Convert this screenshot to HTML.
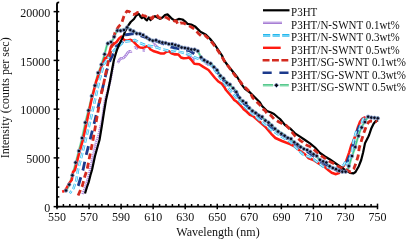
<!DOCTYPE html>
<html><head><meta charset="utf-8"><style>
html,body{margin:0;padding:0;background:#fff;width:406px;height:240px;overflow:hidden}
svg{display:block;will-change:transform}
</style></head><body>
<svg width="406" height="240" viewBox="0 0 406 240">
<polyline points="82.4,194.0 85.0,188.0 88.6,176.0 90.0,170.0 93.1,155.0 96.0,142.0 98.3,136.0 102.0,120.0 105.0,100.0 108.0,90.0 110.5,80.0 113.6,63.5" stroke="#a883dc" stroke-width="2.5" stroke-dasharray="1.2 0.8" fill="none" stroke-linejoin="round"/>
<polyline points="117.8,63.0 118.5,61.5 120.0,59.0 121.5,58.3 123.3,58.0 124.5,57.0 125.8,55.4 127.5,52.9 129.6,51.3 131.2,51.5 131.5,51.2" stroke="#a47cd9" stroke-width="2.6" fill="none" stroke-linejoin="round"/>
<polyline points="117.8,63.0 118.5,61.5 120.0,59.0 121.5,58.3 123.3,58.0 124.5,57.0 125.8,55.4 127.5,52.9 129.6,51.3 131.2,51.5 131.5,51.2" stroke="#ffffff" stroke-width="1.1" stroke-dasharray="1 1" fill="none" stroke-linejoin="round"/>
<polyline points="134.5,47.8 135.0,47.3 137.5,48.6 137.8,48.8" stroke="#a47cd9" stroke-width="2.6" fill="none" stroke-linejoin="round"/>
<polyline points="134.5,47.8 135.0,47.3 137.5,48.6 137.8,48.8" stroke="#ffffff" stroke-width="1.1" stroke-dasharray="1 1" fill="none" stroke-linejoin="round"/>
<polyline points="142.5,50.2 143.0,50.2 145.0,50.5" stroke="#a47cd9" stroke-width="2.6" fill="none" stroke-linejoin="round"/>
<polyline points="142.5,50.2 143.0,50.2 145.0,50.5" stroke="#ffffff" stroke-width="1.1" stroke-dasharray="1 1" fill="none" stroke-linejoin="round"/>
<polyline points="153.5,44.5 154.0,44.0 156.0,46.0 157.6,47.2 158.5,47.3" stroke="#a47cd9" stroke-width="2.6" fill="none" stroke-linejoin="round"/>
<polyline points="153.5,44.5 154.0,44.0 156.0,46.0 157.6,47.2 158.5,47.3" stroke="#ffffff" stroke-width="1.1" stroke-dasharray="1 1" fill="none" stroke-linejoin="round"/>
<polyline points="186.0,53.7 187.0,54.0 190.0,56.5 194.0,60.0 195.0,60.1" stroke="#a47cd9" stroke-width="2.6" fill="none" stroke-linejoin="round"/>
<polyline points="186.0,53.7 187.0,54.0 190.0,56.5 194.0,60.0 195.0,60.1" stroke="#ffffff" stroke-width="1.1" stroke-dasharray="1 1" fill="none" stroke-linejoin="round"/>
<polyline points="205.0,62.9 207.5,63.8 209.0,65.4" stroke="#a47cd9" stroke-width="2.6" fill="none" stroke-linejoin="round"/>
<polyline points="205.0,62.9 207.5,63.8 209.0,65.4" stroke="#ffffff" stroke-width="1.1" stroke-dasharray="1 1" fill="none" stroke-linejoin="round"/>
<polyline points="222.0,81.8 224.0,84.6 226.0,86.9" stroke="#a47cd9" stroke-width="2.6" fill="none" stroke-linejoin="round"/>
<polyline points="222.0,81.8 224.0,84.6 226.0,86.9" stroke="#ffffff" stroke-width="1.1" stroke-dasharray="1 1" fill="none" stroke-linejoin="round"/>
<polyline points="360.0,123.7 362.0,119.0 365.8,117.6 366.0,117.6" stroke="#a47cd9" stroke-width="2.6" fill="none" stroke-linejoin="round"/>
<polyline points="360.0,123.7 362.0,119.0 365.8,117.6 366.0,117.6" stroke="#ffffff" stroke-width="1.1" stroke-dasharray="1 1" fill="none" stroke-linejoin="round"/>
<polyline points="65.0,192.0 66.0,190.8 67.7,188.0 69.3,185.0 72.7,174.2 75.2,165.0 77.8,155.0 81.7,140.0 86.0,120.0 89.4,106.9 91.5,97.5 94.6,87.0 97.7,74.6 101.2,65.6 104.4,55.0 107.5,43.0 111.2,42.5 114.4,36.9 116.9,30.5 120.0,30.0 123.8,30.0 126.9,27.5 130.6,29.4 133.1,31.9 136.9,33.1 140.3,34.3 144.0,36.0 147.2,38.6 150.0,40.0 154.0,40.3 157.5,41.2 161.0,42.0 168.0,43.8 174.8,45.5 181.7,47.2 188.6,49.0 195.5,49.8 198.1,51.6 200.6,56.5 204.4,60.1 207.5,62.5 211.2,63.5 213.8,67.0 217.5,70.0 220.0,75.2 226.2,81.5 231.5,86.7 236.7,91.9 240.0,99.4 245.0,102.5 250.0,108.8 256.0,113.0 259.0,115.0 262.0,117.0 265.5,120.5 268.5,122.5 271.5,125.0 274.5,128.5 277.5,130.5 280.0,132.3 283.0,133.8 285.0,136.2 290.0,138.8 295.0,142.5 305.0,149.2 310.0,151.7 315.0,155.0 320.0,160.0 322.9,161.8 326.6,163.2 329.5,166.9 333.1,167.6 336.0,169.8 339.0,171.2 341.9,172.0 345.5,171.2 348.4,168.3 351.3,158.1 355.0,147.9 358.3,135.8 361.2,127.7 364.6,122.0 368.0,117.0 370.8,117.6 373.6,118.1 377.6,117.6 378.7,118.0" stroke="#8fe0b8" stroke-width="2.4" fill="none" stroke-linejoin="round"/>
<polyline points="65.0,192.0 66.0,190.8 67.7,188.0 69.3,185.0 72.7,174.2 75.2,165.0 77.8,155.0 81.7,140.0 86.0,120.0 89.4,106.9 91.5,97.5 94.6,87.0 97.7,74.6 101.2,65.6 104.4,55.0 107.5,43.0 111.2,42.5 114.4,36.9 116.9,30.5 120.0,30.0 123.8,30.0 126.9,27.5 130.6,29.4 133.1,31.9 136.9,33.1 140.3,34.3 144.0,36.0 147.2,38.6 150.0,40.0 154.0,40.3 157.5,41.2 161.0,42.0 168.0,43.8 174.8,45.5 181.7,47.2 188.6,49.0 195.5,49.8 198.1,51.6 200.6,56.5 204.4,60.1 207.5,62.5 211.2,63.5 213.8,67.0 217.5,70.0 220.0,75.2 226.2,81.5 231.5,86.7 236.7,91.9 240.0,99.4 245.0,102.5 250.0,108.8 256.0,113.0 259.0,115.0 262.0,117.0 265.5,120.5 268.5,122.5 271.5,125.0 274.5,128.5 277.5,130.5 280.0,132.3 283.0,133.8 285.0,136.2 290.0,138.8 295.0,142.5 305.0,149.2 310.0,151.7 315.0,155.0 320.0,160.0 322.9,161.8 326.6,163.2 329.5,166.9 333.1,167.6 336.0,169.8 339.0,171.2 341.9,172.0 345.5,171.2 348.4,168.3 351.3,158.1 355.0,147.9 358.3,135.8 361.2,127.7 364.6,122.0 368.0,117.0 370.8,117.6 373.6,118.1 377.6,117.6 378.7,118.0" stroke="#3cc07a" stroke-width="1.1" fill="none" stroke-linejoin="round"/>
<polyline points="62.2,191.7 64.3,191.0 66.0,189.0 69.3,183.0 71.8,180.0 73.0,172.0 75.0,170.0 78.7,155.0 82.9,140.0 87.2,120.0 91.0,102.0 96.0,82.0 101.0,68.0 105.0,58.0 106.5,58.0 108.0,55.5 109.3,53.0 111.0,46.7 114.0,44.0 116.8,41.7 119.0,38.5 121.5,36.6 123.4,39.2 125.0,40.2 128.0,40.5 130.5,39.8 133.0,41.2 136.3,44.6 138.8,47.0 140.0,47.4 142.8,47.8 144.5,47.4 146.5,46.3 148.5,46.8 150.5,49.5 154.0,51.3 158.0,52.5 161.0,53.6 164.0,53.5 166.5,51.8 169.0,51.2 171.4,53.2 175.0,54.5 176.0,54.2 178.5,54.6 181.0,57.5 183.5,58.3 186.8,57.9 189.0,57.5 191.0,59.5 194.3,63.8 199.3,64.2 203.3,66.9 208.5,70.0 215.0,78.0 218.0,81.2 221.8,83.8 224.2,86.9 226.0,90.0 229.0,93.5 231.8,96.8 234.2,99.9 236.8,101.8 239.2,104.2 241.8,106.8 243.6,109.2 246.5,111.5 249.9,114.9 253.0,116.1 256.7,119.2 265.0,126.5 271.2,133.8 275.4,138.0 282.0,141.0 290.0,144.2 295.0,146.7 300.0,150.8 305.0,154.2 308.3,158.0 313.3,160.0 318.3,163.3 323.3,165.8 328.8,170.5 331.7,172.7 336.0,174.2 339.0,173.0 341.9,168.3 344.0,165.4 346.2,161.0 349.2,152.3 351.3,145.0 352.5,143.3 355.6,135.0 357.9,127.1 360.1,121.5 362.4,118.7 365.2,117.0" stroke="#ff1a10" stroke-width="2.5" fill="none" stroke-linejoin="round"/>
<polyline points="75.6,190.8 78.5,185.0 80.0,180.0 83.0,170.0 86.2,155.0 90.0,140.0 95.0,120.0 99.8,100.0 104.0,82.0 107.0,70.0 110.2,60.0 112.7,55.0 116.0,46.7 119.3,44.2 122.7,41.7 124.8,35.0 128.0,34.5 133.2,33.7 140.0,35.5 150.0,39.0 160.0,42.5 167.5,45.5 171.4,47.2 180.0,49.0 190.0,51.0 199.0,57.0 209.6,63.0 214.8,68.0 220.0,76.5 226.2,83.0 231.5,88.0 236.7,93.0 240.0,100.5 248.3,107.0 256.7,114.0 265.0,121.5 273.3,129.0 281.7,135.0 290.0,140.5 300.4,147.0 310.8,154.0 321.2,161.5 330.0,167.0 337.5,170.5 342.0,170.0 345.5,165.0 347.5,161.0 350.0,155.0 353.0,145.0 356.0,134.0 359.0,127.0 362.0,122.0 365.0,119.0" stroke="#1c3a8c" stroke-width="2.8" stroke-dasharray="9 7" stroke-dashoffset="10.40" fill="none" stroke-linejoin="round"/>
<polyline points="69.8,193.3 73.5,188.3 76.4,180.0 78.0,170.0 81.9,155.0 85.6,140.0 90.5,120.0 95.0,100.0 99.5,80.0 104.0,64.0 108.0,58.0 112.0,52.5 115.2,49.2 119.0,46.0 123.0,42.5 126.0,41.5 130.0,41.0 135.0,40.0 140.0,43.0 145.0,45.0 150.0,46.0 155.0,47.0 164.5,49.8 171.4,51.5 174.8,50.7 181.7,52.4 188.0,54.0 195.0,57.5 203.3,60.6 211.7,65.8 222.0,80.4 231.5,92.0 240.0,102.0 248.0,110.0 255.0,116.0 263.0,123.0 270.0,129.0 282.0,137.0 290.0,141.5 302.5,154.2 312.0,158.0 323.3,166.7 330.0,168.0 338.0,168.0 343.8,165.0 345.6,161.2 347.5,165.0 348.0,163.0 351.7,153.3 353.3,141.7 356.0,132.0 359.0,130.5 360.7,124.9 363.0,119.0 366.0,117.5" stroke="#3ac0f0" stroke-width="2.5" stroke-dasharray="5.5 2.5" stroke-dashoffset="2.67" fill="none" stroke-linejoin="round"/>
<polyline points="69.8,193.3 73.5,188.3 76.4,180.0 78.0,170.0 81.9,155.0 85.6,140.0 90.5,120.0 95.0,100.0 99.5,80.0 104.0,64.0 108.0,58.0 112.0,52.5 115.2,49.2 119.0,46.0 123.0,42.5 126.0,41.5 130.0,41.0 135.0,40.0 140.0,43.0 145.0,45.0 150.0,46.0 155.0,47.0 164.5,49.8 171.4,51.5 174.8,50.7 181.7,52.4 188.0,54.0 195.0,57.5 203.3,60.6 211.7,65.8 222.0,80.4 231.5,92.0 240.0,102.0 248.0,110.0 255.0,116.0 263.0,123.0 270.0,129.0 282.0,137.0 290.0,141.5 302.5,154.2 312.0,158.0 323.3,166.7 330.0,168.0 338.0,168.0 343.8,165.0 345.6,161.2 347.5,165.0 348.0,163.0 351.7,153.3 353.3,141.7 356.0,132.0 359.0,130.5 360.7,124.9 363.0,119.0 366.0,117.5" stroke="#e4f6fd" stroke-width="0.9" stroke-dasharray="5.5 2.5" stroke-dashoffset="2.67" fill="none" stroke-linejoin="round"/>
<polyline points="85.0,193.5 87.0,187.0 88.6,182.5 90.5,175.0 92.0,170.0 95.0,156.0 97.5,147.0 99.5,140.0 102.0,125.0 104.0,112.0 106.0,100.0 108.0,91.0 110.0,81.0 112.0,70.0 113.9,60.0 115.6,54.2 117.2,49.2 119.3,44.2 121.4,40.0 122.3,38.5 123.6,35.3 125.2,31.2 127.8,26.2 130.7,22.0 134.0,19.0 136.2,15.5 138.8,13.8 140.6,16.9 141.9,18.1 143.8,16.9 145.6,19.4 146.9,20.3 148.8,17.5 150.6,20.0 153.0,17.5 155.0,16.2 157.5,17.5 160.0,18.8 162.5,17.5 165.0,15.0 167.5,14.4 170.0,16.9 171.9,18.8 175.0,20.6 178.8,18.9 182.5,19.5 185.0,21.4 187.5,23.9 191.2,24.5 195.0,26.4 197.5,28.9 200.0,31.4 201.9,32.6 205.0,34.2 206.2,35.0 210.0,38.8 215.0,45.0 220.0,52.5 222.0,55.5 223.8,60.0 227.5,65.0 232.5,71.2 237.5,77.5 241.2,83.8 245.0,88.8 250.0,92.5 255.0,97.5 260.0,102.5 262.0,106.0 264.0,108.0 267.0,111.0 271.0,112.5 274.0,114.0 277.5,117.0 280.0,119.0 285.0,125.0 290.0,128.3 295.0,133.3 300.0,136.7 305.0,140.0 310.0,143.3 315.0,147.5 320.0,153.0 325.0,156.5 330.0,159.5 335.0,163.0 340.0,166.5 345.0,170.0 350.0,172.8 353.5,173.4 355.5,172.0 358.8,166.2 361.2,160.0 363.1,152.5 365.0,143.3 368.3,136.7 369.1,135.0 371.4,128.2 373.6,123.8 375.9,121.0 378.1,120.4" stroke="#000" stroke-width="2.2" fill="none" stroke-linejoin="round"/>
<polyline points="78.0,195.8 80.5,190.0 82.4,185.6 84.9,176.0 87.0,170.0 90.0,155.0 93.0,140.0 96.5,120.0 100.0,100.0 104.0,82.0 108.0,63.0 110.0,55.0 113.0,40.0 115.0,32.5 118.6,26.6 120.3,24.8 121.5,23.6 124.5,14.5 126.9,11.2 129.4,11.6 131.2,13.5 133.5,14.5 135.6,13.8 137.5,12.5 140.6,13.8 143.1,15.6 145.0,15.8 147.5,17.5 150.0,16.9 151.9,18.8 153.8,16.2 156.2,14.4 158.8,17.5 161.2,18.1 163.8,16.9 166.5,17.5 169.4,19.4 172.5,20.0 175.0,21.2 176.2,21.0 178.1,24.5 180.5,23.0 183.8,23.2 187.5,25.1 191.2,27.0 195.0,29.5 198.1,33.2 201.2,35.8 203.8,36.4 205.0,35.5 210.0,40.0 215.0,46.2 220.0,53.8 222.0,57.0 225.0,62.0 228.0,66.0 231.8,71.0 235.0,75.5 238.0,78.8 240.5,81.9 243.0,85.6 246.1,88.3 250.0,92.2 252.5,97.5 260.0,105.0 262.0,108.5 265.0,110.5 267.0,113.5 271.0,115.5 274.0,119.0 279.0,122.0 282.0,123.5 286.0,125.2 290.0,129.5 293.0,133.5 295.0,136.0 298.0,138.5 300.0,140.3 303.0,142.3 305.0,144.5 310.0,146.5 315.0,150.5 320.0,155.0 325.0,158.3 330.0,161.7 335.0,164.2 339.0,166.9 344.0,168.8 350.6,172.0 353.8,168.8 356.2,162.5 358.1,156.2 359.2,148.0 361.5,140.5 363.8,133.0 366.0,127.0 368.2,122.5 370.5,121.0 375.0,121.0 377.2,121.8" stroke="#d42a1f" stroke-width="2.8" stroke-dasharray="6 3.5" stroke-dashoffset="9.23" fill="none" stroke-linejoin="round"/>
<g fill="#0b0f1e" stroke="#8c9fd2" stroke-width="0.9" stroke-opacity="0.85"><circle cx="66.0" cy="190.5" r="1.75"/><circle cx="69.2" cy="184.6" r="1.75"/><circle cx="72.4" cy="175.3" r="1.75"/><circle cx="75.6" cy="162.6" r="1.75"/><circle cx="78.9" cy="151.0" r="1.75"/><circle cx="82.1" cy="138.1" r="1.75"/><circle cx="85.3" cy="122.6" r="1.75"/><circle cx="88.5" cy="110.4" r="1.75"/><circle cx="91.7" cy="96.0" r="1.75"/><circle cx="94.9" cy="85.6" r="1.75"/><circle cx="98.1" cy="72.8" r="1.75"/><circle cx="101.4" cy="64.6" r="1.75"/><circle cx="104.6" cy="54.2" r="1.75"/><circle cx="107.8" cy="43.5" r="1.75"/><circle cx="111.0" cy="41.9" r="1.75"/><circle cx="114.2" cy="36.8" r="1.75"/><circle cx="117.4" cy="30.6" r="1.75"/><circle cx="120.6" cy="30.7" r="1.75"/><circle cx="123.9" cy="30.0" r="1.75"/><circle cx="127.1" cy="27.4" r="1.75"/><circle cx="130.3" cy="30.0" r="1.75"/><circle cx="133.5" cy="31.3" r="1.75"/><circle cx="136.7" cy="33.6" r="1.75"/><circle cx="139.9" cy="33.8" r="1.75"/><circle cx="143.1" cy="35.0" r="1.75"/><circle cx="146.4" cy="37.3" r="1.75"/><circle cx="149.6" cy="39.5" r="1.75"/><circle cx="152.8" cy="40.7" r="1.75"/><circle cx="156.0" cy="40.3" r="1.75"/><circle cx="159.2" cy="41.7" r="1.75"/><circle cx="162.4" cy="42.6" r="1.75"/><circle cx="165.6" cy="43.0" r="1.75"/><circle cx="168.8" cy="44.1" r="1.75"/><circle cx="172.1" cy="44.1" r="1.75"/><circle cx="175.3" cy="44.9" r="1.75"/><circle cx="178.5" cy="45.9" r="1.75"/><circle cx="181.7" cy="47.5" r="1.75"/><circle cx="184.9" cy="47.9" r="1.75"/><circle cx="188.1" cy="48.6" r="1.75"/><circle cx="191.3" cy="49.5" r="1.75"/><circle cx="194.6" cy="49.6" r="1.75"/><circle cx="197.8" cy="51.1" r="1.75"/><circle cx="201.0" cy="57.3" r="1.75"/><circle cx="204.2" cy="60.2" r="1.75"/><circle cx="207.4" cy="62.0" r="1.75"/><circle cx="210.6" cy="63.5" r="1.75"/><circle cx="213.8" cy="67.1" r="1.75"/><circle cx="217.1" cy="70.2" r="1.75"/><circle cx="220.3" cy="75.8" r="1.75"/><circle cx="223.5" cy="78.4" r="1.75"/><circle cx="226.7" cy="82.7" r="1.75"/><circle cx="229.9" cy="84.5" r="1.75"/><circle cx="233.1" cy="88.2" r="1.75"/><circle cx="236.3" cy="92.0" r="1.75"/><circle cx="239.6" cy="97.8" r="1.75"/><circle cx="242.8" cy="101.1" r="1.75"/><circle cx="246.0" cy="103.0" r="1.75"/><circle cx="249.2" cy="108.0" r="1.75"/><circle cx="252.4" cy="110.9" r="1.75"/><circle cx="255.6" cy="112.9" r="1.75"/><circle cx="258.8" cy="115.5" r="1.75"/><circle cx="262.1" cy="116.8" r="1.75"/><circle cx="265.3" cy="120.6" r="1.75"/><circle cx="268.5" cy="122.6" r="1.75"/><circle cx="271.7" cy="125.4" r="1.75"/><circle cx="274.9" cy="128.7" r="1.75"/><circle cx="278.1" cy="131.5" r="1.75"/><circle cx="281.3" cy="133.7" r="1.75"/><circle cx="284.6" cy="135.7" r="1.75"/><circle cx="287.8" cy="137.9" r="1.75"/><circle cx="291.0" cy="138.8" r="1.75"/><circle cx="294.2" cy="142.2" r="1.75"/><circle cx="297.4" cy="144.4" r="1.75"/><circle cx="300.6" cy="147.1" r="1.75"/><circle cx="303.8" cy="148.9" r="1.75"/><circle cx="307.1" cy="149.9" r="1.75"/><circle cx="310.3" cy="151.7" r="1.75"/><circle cx="313.5" cy="154.3" r="1.75"/><circle cx="316.7" cy="155.9" r="1.75"/><circle cx="319.9" cy="159.8" r="1.75"/><circle cx="323.1" cy="161.4" r="1.75"/><circle cx="326.3" cy="162.5" r="1.75"/><circle cx="329.6" cy="166.2" r="1.75"/><circle cx="332.8" cy="168.0" r="1.75"/><circle cx="336.0" cy="169.2" r="1.75"/><circle cx="339.2" cy="170.8" r="1.75"/><circle cx="342.4" cy="171.7" r="1.75"/><circle cx="345.6" cy="171.7" r="1.75"/><circle cx="348.8" cy="166.1" r="1.75"/><circle cx="352.0" cy="156.0" r="1.75"/><circle cx="355.3" cy="147.0" r="1.75"/><circle cx="358.5" cy="135.9" r="1.75"/><circle cx="361.7" cy="127.5" r="1.75"/><circle cx="364.9" cy="122.1" r="1.75"/><circle cx="368.1" cy="116.7" r="1.75"/><circle cx="371.3" cy="117.6" r="1.75"/><circle cx="374.5" cy="117.8" r="1.75"/><circle cx="377.8" cy="118.3" r="1.75"/></g>
<path d="M57 207.45000000000002 L57 4.2 Q57 2.3 59.2 2.4" stroke="#000" stroke-width="1.9" fill="none"/>
<line x1="56.1" y1="206.65" x2="378.1" y2="206.65" stroke="#000" stroke-width="1.9"/>
<line x1="53.6" y1="206.65" x2="59.3" y2="206.65" stroke="#000" stroke-width="1.5"/>
<line x1="57" y1="196.90" x2="59.3" y2="196.90" stroke="#000" stroke-width="1.5"/>
<line x1="57" y1="187.15" x2="59.3" y2="187.15" stroke="#000" stroke-width="1.5"/>
<line x1="57" y1="177.40" x2="59.3" y2="177.40" stroke="#000" stroke-width="1.5"/>
<line x1="57" y1="167.65" x2="59.3" y2="167.65" stroke="#000" stroke-width="1.5"/>
<line x1="53.6" y1="157.90" x2="59.3" y2="157.90" stroke="#000" stroke-width="1.5"/>
<line x1="57" y1="148.15" x2="59.3" y2="148.15" stroke="#000" stroke-width="1.5"/>
<line x1="57" y1="138.40" x2="59.3" y2="138.40" stroke="#000" stroke-width="1.5"/>
<line x1="57" y1="128.65" x2="59.3" y2="128.65" stroke="#000" stroke-width="1.5"/>
<line x1="57" y1="118.90" x2="59.3" y2="118.90" stroke="#000" stroke-width="1.5"/>
<line x1="53.6" y1="109.15" x2="59.3" y2="109.15" stroke="#000" stroke-width="1.5"/>
<line x1="57" y1="99.40" x2="59.3" y2="99.40" stroke="#000" stroke-width="1.5"/>
<line x1="57" y1="89.65" x2="59.3" y2="89.65" stroke="#000" stroke-width="1.5"/>
<line x1="57" y1="79.90" x2="59.3" y2="79.90" stroke="#000" stroke-width="1.5"/>
<line x1="57" y1="70.15" x2="59.3" y2="70.15" stroke="#000" stroke-width="1.5"/>
<line x1="53.6" y1="60.40" x2="59.3" y2="60.40" stroke="#000" stroke-width="1.5"/>
<line x1="57" y1="50.65" x2="59.3" y2="50.65" stroke="#000" stroke-width="1.5"/>
<line x1="57" y1="40.90" x2="59.3" y2="40.90" stroke="#000" stroke-width="1.5"/>
<line x1="57" y1="31.15" x2="59.3" y2="31.15" stroke="#000" stroke-width="1.5"/>
<line x1="57" y1="21.40" x2="59.3" y2="21.40" stroke="#000" stroke-width="1.5"/>
<line x1="53.6" y1="11.65" x2="59.3" y2="11.65" stroke="#000" stroke-width="1.5"/>
<line x1="57.00" y1="203.65" x2="57.00" y2="209.25" stroke="#000" stroke-width="1.5"/>
<line x1="63.41" y1="204.05" x2="63.41" y2="206.65" stroke="#000" stroke-width="1.5"/>
<line x1="69.82" y1="204.05" x2="69.82" y2="206.65" stroke="#000" stroke-width="1.5"/>
<line x1="76.23" y1="204.05" x2="76.23" y2="206.65" stroke="#000" stroke-width="1.5"/>
<line x1="82.64" y1="204.05" x2="82.64" y2="206.65" stroke="#000" stroke-width="1.5"/>
<line x1="89.05" y1="203.65" x2="89.05" y2="209.25" stroke="#000" stroke-width="1.5"/>
<line x1="95.46" y1="204.05" x2="95.46" y2="206.65" stroke="#000" stroke-width="1.5"/>
<line x1="101.87" y1="204.05" x2="101.87" y2="206.65" stroke="#000" stroke-width="1.5"/>
<line x1="108.28" y1="204.05" x2="108.28" y2="206.65" stroke="#000" stroke-width="1.5"/>
<line x1="114.69" y1="204.05" x2="114.69" y2="206.65" stroke="#000" stroke-width="1.5"/>
<line x1="121.10" y1="203.65" x2="121.10" y2="209.25" stroke="#000" stroke-width="1.5"/>
<line x1="127.51" y1="204.05" x2="127.51" y2="206.65" stroke="#000" stroke-width="1.5"/>
<line x1="133.92" y1="204.05" x2="133.92" y2="206.65" stroke="#000" stroke-width="1.5"/>
<line x1="140.33" y1="204.05" x2="140.33" y2="206.65" stroke="#000" stroke-width="1.5"/>
<line x1="146.74" y1="204.05" x2="146.74" y2="206.65" stroke="#000" stroke-width="1.5"/>
<line x1="153.15" y1="203.65" x2="153.15" y2="209.25" stroke="#000" stroke-width="1.5"/>
<line x1="159.56" y1="204.05" x2="159.56" y2="206.65" stroke="#000" stroke-width="1.5"/>
<line x1="165.97" y1="204.05" x2="165.97" y2="206.65" stroke="#000" stroke-width="1.5"/>
<line x1="172.38" y1="204.05" x2="172.38" y2="206.65" stroke="#000" stroke-width="1.5"/>
<line x1="178.79" y1="204.05" x2="178.79" y2="206.65" stroke="#000" stroke-width="1.5"/>
<line x1="185.20" y1="203.65" x2="185.20" y2="209.25" stroke="#000" stroke-width="1.5"/>
<line x1="191.61" y1="204.05" x2="191.61" y2="206.65" stroke="#000" stroke-width="1.5"/>
<line x1="198.02" y1="204.05" x2="198.02" y2="206.65" stroke="#000" stroke-width="1.5"/>
<line x1="204.43" y1="204.05" x2="204.43" y2="206.65" stroke="#000" stroke-width="1.5"/>
<line x1="210.84" y1="204.05" x2="210.84" y2="206.65" stroke="#000" stroke-width="1.5"/>
<line x1="217.25" y1="203.65" x2="217.25" y2="209.25" stroke="#000" stroke-width="1.5"/>
<line x1="223.66" y1="204.05" x2="223.66" y2="206.65" stroke="#000" stroke-width="1.5"/>
<line x1="230.07" y1="204.05" x2="230.07" y2="206.65" stroke="#000" stroke-width="1.5"/>
<line x1="236.48" y1="204.05" x2="236.48" y2="206.65" stroke="#000" stroke-width="1.5"/>
<line x1="242.89" y1="204.05" x2="242.89" y2="206.65" stroke="#000" stroke-width="1.5"/>
<line x1="249.30" y1="203.65" x2="249.30" y2="209.25" stroke="#000" stroke-width="1.5"/>
<line x1="255.71" y1="204.05" x2="255.71" y2="206.65" stroke="#000" stroke-width="1.5"/>
<line x1="262.12" y1="204.05" x2="262.12" y2="206.65" stroke="#000" stroke-width="1.5"/>
<line x1="268.53" y1="204.05" x2="268.53" y2="206.65" stroke="#000" stroke-width="1.5"/>
<line x1="274.94" y1="204.05" x2="274.94" y2="206.65" stroke="#000" stroke-width="1.5"/>
<line x1="281.35" y1="203.65" x2="281.35" y2="209.25" stroke="#000" stroke-width="1.5"/>
<line x1="287.76" y1="204.05" x2="287.76" y2="206.65" stroke="#000" stroke-width="1.5"/>
<line x1="294.17" y1="204.05" x2="294.17" y2="206.65" stroke="#000" stroke-width="1.5"/>
<line x1="300.58" y1="204.05" x2="300.58" y2="206.65" stroke="#000" stroke-width="1.5"/>
<line x1="306.99" y1="204.05" x2="306.99" y2="206.65" stroke="#000" stroke-width="1.5"/>
<line x1="313.40" y1="203.65" x2="313.40" y2="209.25" stroke="#000" stroke-width="1.5"/>
<line x1="319.81" y1="204.05" x2="319.81" y2="206.65" stroke="#000" stroke-width="1.5"/>
<line x1="326.22" y1="204.05" x2="326.22" y2="206.65" stroke="#000" stroke-width="1.5"/>
<line x1="332.63" y1="204.05" x2="332.63" y2="206.65" stroke="#000" stroke-width="1.5"/>
<line x1="339.04" y1="204.05" x2="339.04" y2="206.65" stroke="#000" stroke-width="1.5"/>
<line x1="345.45" y1="203.65" x2="345.45" y2="209.25" stroke="#000" stroke-width="1.5"/>
<line x1="351.86" y1="204.05" x2="351.86" y2="206.65" stroke="#000" stroke-width="1.5"/>
<line x1="358.27" y1="204.05" x2="358.27" y2="206.65" stroke="#000" stroke-width="1.5"/>
<line x1="364.68" y1="204.05" x2="364.68" y2="206.65" stroke="#000" stroke-width="1.5"/>
<line x1="371.09" y1="204.05" x2="371.09" y2="206.65" stroke="#000" stroke-width="1.5"/>
<line x1="377.50" y1="203.65" x2="377.50" y2="209.25" stroke="#000" stroke-width="1.5"/>
<g style="font-family:&quot;Liberation Serif&quot;, serif" font-size="12" fill="#111"><text x="50.2" y="211.9" text-anchor="end">0</text>
<text x="50.2" y="163.2" text-anchor="end">5000</text>
<text x="50.2" y="114.4" text-anchor="end">10000</text>
<text x="50.2" y="65.7" text-anchor="end">15000</text>
<text x="50.2" y="16.9" text-anchor="end">20000</text>
<text x="57.0" y="220.5" text-anchor="middle">550</text>
<text x="89.0" y="220.5" text-anchor="middle">570</text>
<text x="121.1" y="220.5" text-anchor="middle">590</text>
<text x="153.2" y="220.5" text-anchor="middle">610</text>
<text x="185.2" y="220.5" text-anchor="middle">630</text>
<text x="217.2" y="220.5" text-anchor="middle">650</text>
<text x="249.3" y="220.5" text-anchor="middle">670</text>
<text x="281.4" y="220.5" text-anchor="middle">690</text>
<text x="313.4" y="220.5" text-anchor="middle">710</text>
<text x="345.4" y="220.5" text-anchor="middle">730</text>
<text x="377.5" y="220.5" text-anchor="middle">750</text>
<text x="218" y="236" text-anchor="middle">Wavelength (nm)</text>
<text transform="translate(9.0,97.8) rotate(-90)" text-anchor="middle">Intensity (counts per sec)</text></g>
<line x1="263" y1="10.3" x2="289.5" y2="10.3" stroke="#000" stroke-width="2.2"/>
<line x1="263" y1="22.6" x2="282" y2="22.6" stroke="#d2bcec" stroke-width="2.4"/>
<line x1="263" y1="23.3" x2="282" y2="23.3" stroke="#a57bd3" stroke-width="1.3"/>
<line x1="263" y1="35.4" x2="289.5" y2="35.4" stroke="#22b8ee" stroke-width="2.7" stroke-dasharray="7.2 2.4"/>
<line x1="263" y1="35.75" x2="289.5" y2="35.75" stroke="#bfe9fb" stroke-width="0.7" stroke-dasharray="7.2 2.4"/>
<line x1="263" y1="47.8" x2="280.7" y2="47.8" stroke="#ff1a10" stroke-width="2.4"/>
<line x1="262.6" y1="60.3" x2="288.5" y2="60.3" stroke="#d42a1f" stroke-width="2.4" stroke-dasharray="6.9 2.5"/>
<line x1="262.6" y1="72.8" x2="288.5" y2="72.8" stroke="#1c3a8c" stroke-width="2.6" stroke-dasharray="9.1 7.7"/>
<line x1="262.9" y1="85.8" x2="273.1" y2="85.8" stroke="#a6e6c6" stroke-width="1.8"/>
<line x1="262.9" y1="84.75" x2="273.1" y2="84.75" stroke="#3cc07a" stroke-width="1.2"/>
<line x1="279.8" y1="85.8" x2="288.8" y2="85.8" stroke="#a6e6c6" stroke-width="1.8"/>
<line x1="279.8" y1="84.75" x2="288.8" y2="84.75" stroke="#3cc07a" stroke-width="1.2"/>
<path d="M276.4 83.0L278.7 85.3L276.4 87.6L274.09999999999997 85.3Z" fill="#05060c" stroke="#8ea4e0" stroke-width="0.9" stroke-opacity="0.8"/>
<g style="font-family:&quot;Liberation Serif&quot;, serif" font-size="11.7" fill="#111"><text transform="translate(291.0,16.10) scale(0.942,1)">P3HT</text>
<text transform="translate(291.0,28.60) scale(0.942,1)">P3HT/N-SWNT 0.1wt%</text>
<text transform="translate(291.0,41.10) scale(0.942,1)">P3HT/N-SWNT 0.3wt%</text>
<text transform="translate(291.0,53.60) scale(0.942,1)">P3HT/N-SWNT 0.5wt%</text>
<text transform="translate(291.0,66.10) scale(0.942,1)">P3HT/SG-SWNT 0.1wt%</text>
<text transform="translate(291.0,78.60) scale(0.942,1)">P3HT/SG-SWNT 0.3wt%</text>
<text transform="translate(291.0,91.10) scale(0.942,1)">P3HT/SG-SWNT 0.5wt%</text></g>
</svg>
</body></html>
